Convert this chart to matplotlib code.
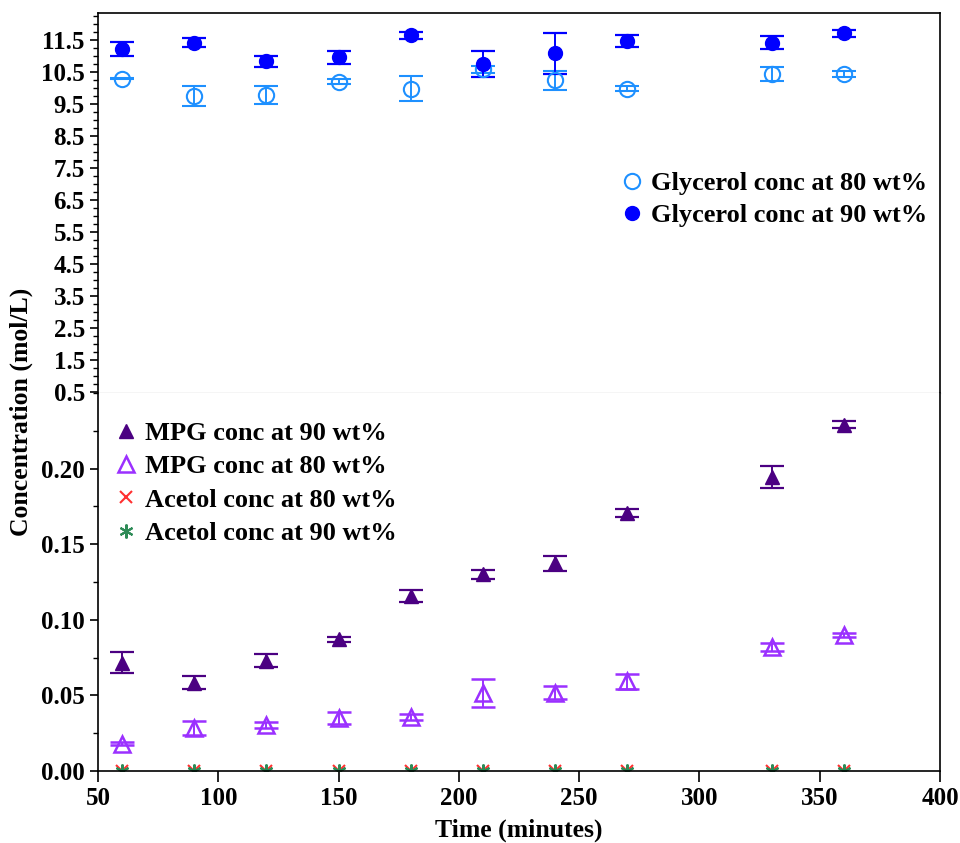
import matplotlib
matplotlib.use("Agg")
import matplotlib.pyplot as plt
from matplotlib.ticker import MultipleLocator, FormatStrFormatter

plt.rcParams['font.family'] = ['Liberation Serif', 'DejaVu Serif']
plt.rcParams['font.weight'] = 'bold'

# Sampling times (minutes)
time_min = [60, 90, 120, 150, 180, 210, 240, 270, 330, 360]

# Glycerol concentration (mol/L) and error
gly80 = [10.29, 9.74, 9.78, 10.20, 9.97, 10.58, 10.24, 9.98, 10.43, 10.43]
gly80_err = [0.02, 0.32, 0.27, 0.09, 0.39, 0.10, 0.29, 0.08, 0.21, 0.09]
gly90 = [11.21, 11.41, 10.83, 10.95, 11.65, 10.75, 11.08, 11.47, 11.41, 11.70]
gly90_err = [0.22, 0.14, 0.17, 0.20, 0.11, 0.40, 0.63, 0.18, 0.21, 0.11]

# MPG concentration (mol/L) and error
mpg90 = [0.0717, 0.0585, 0.0730, 0.0872, 0.1160, 0.1300, 0.1375, 0.1706, 0.1945, 0.2290]
mpg90_err = [0.0070, 0.0044, 0.0044, 0.0017, 0.0040, 0.0030, 0.0050, 0.0025, 0.0072, 0.0024]
mpg80 = [0.0179, 0.0283, 0.0305, 0.0349, 0.0360, 0.0515, 0.0519, 0.0592, 0.0820, 0.0900]
mpg80_err = [0.0010, 0.0046, 0.0019, 0.0039, 0.0020, 0.0094, 0.0044, 0.0050, 0.0025, 0.0013]

# Acetol concentration (mol/L)
acetol80 = [0.0, 0.0, 0.0, 0.0, 0.0, 0.0, 0.0, 0.0, 0.0, 0.0]
acetol90 = [0.0, 0.0, 0.0, 0.0, 0.0, 0.0, 0.0, 0.0, 0.0, 0.0]

x_ticks = [50, 100, 150, 200, 250, 300, 350, 400]
top_ticks = [0.5, 1.5, 2.5, 3.5, 4.5, 5.5, 6.5, 7.5, 8.5, 9.5, 10.5, 11.5]
bot_ticks = [0.00, 0.05, 0.10, 0.15, 0.20]

fig = plt.figure(figsize=(9.6, 8.43), dpi=100)
L, W = 98 / 960, (940 - 98) / 960
ax_top = fig.add_axes([L, 1 - 393 / 843, W, (393 - 13) / 843])
ax_bot = fig.add_axes([L, 1 - 771 / 843, W, (771 - 393) / 843])

cap = 8.5
ebkw = dict(capsize=cap, elinewidth=1.4, capthick=1.6, linestyle='none')

e_g80 = ax_top.errorbar(time_min, gly80, yerr=gly80_err, marker='o', ms=11, mfc='none',
                        mec='#1E90FF', mew=1.5, color='#1E90FF', **ebkw)
e_g90 = ax_top.errorbar(time_min, gly90, yerr=gly90_err, marker='o', ms=10, mfc='#0000FF',
                        mec='#0000FF', color='#0000FF', **ebkw)

e_m90 = ax_bot.errorbar(time_min, mpg90, yerr=mpg90_err, marker='^', ms=10, mfc='#4B0082',
                        mec='#4B0082', color='#4B0082', **ebkw)
e_m80 = ax_bot.errorbar(time_min, mpg80, yerr=mpg80_err, marker='^', ms=11, mfc='none',
                        mec='#9B30FF', mew=1.8, color='#9B30FF', **ebkw)
l_a80, = ax_bot.plot(time_min, acetol80, linestyle='none', marker='x', ms=9, mew=1.5,
                     color='#FF3030')
l_a90, = ax_bot.plot(time_min, acetol90, linestyle='none', marker=(6, 2, 0), ms=10, mew=1.5,
                     color='#2E8B57')

for ax in (ax_top, ax_bot):
    ax.set_xlim(50, 400)
    for s in ax.spines.values():
        s.set_linewidth(1.2)
    ax.tick_params(axis='y', which='major', direction='out', length=6, width=1.2,
                   labelsize=18)
    ax.tick_params(axis='y', which='minor', direction='out', length=3.5, width=1.0)

# Upper panel: glycerol
ax_top.set_yticks(top_ticks)
ax_top.yaxis.set_minor_locator(MultipleLocator(0.25))
ax_top.yaxis.set_major_formatter(FormatStrFormatter('%.1f'))
ax_top.set_ylim(0.47, 12.34)
ax_top.set_xticks([])
ax_top.spines['bottom'].set_color('#d0d0d0')
ax_top.spines['bottom'].set_linewidth(1.0)

# Lower panel: MPG and acetol
ax_bot.set_yticks(bot_ticks)
ax_bot.yaxis.set_minor_locator(MultipleLocator(0.025))
ax_bot.yaxis.set_major_formatter(FormatStrFormatter('%.2f'))
ax_bot.set_ylim(0, 0.25)
ax_bot.spines['top'].set_visible(False)
ax_bot.set_xticks(x_ticks)
ax_bot.tick_params(axis='x', direction='out', length=8, width=1.2, labelsize=18)
for lab in (ax_bot.get_xticklabels() + ax_bot.get_yticklabels()
            + ax_top.get_yticklabels()):
    lab.set_fontweight('bold')

ax_bot.set_xlabel('Time (minutes)', fontsize=18.5, fontweight='bold', labelpad=6)
fig.text(0.022, 0.511, 'Concentration (mol/L)', rotation=90, ha='center', va='center',
         fontsize=18.5, fontweight='bold')

leg_kw = dict(frameon=False, prop={'weight': 'bold', 'size': 19}, handletextpad=0.15,
              labelspacing=0.33, handlelength=1.1, borderaxespad=0)
ax_top.legend([e_g80.lines[0], e_g90.lines[0]],
              ['Glycerol conc at 80 wt%', 'Glycerol conc at 90 wt%'],
              loc='upper left', bbox_to_anchor=(0.605, 0.61), **leg_kw)
ax_bot.legend([e_m90.lines[0], e_m80.lines[0], l_a80, l_a90],
              ['MPG conc at 90 wt%', 'MPG conc at 80 wt%',
               'Acetol conc at 80 wt%', 'Acetol conc at 90 wt%'],
              loc='upper left', bbox_to_anchor=(0.004, 0.952),
              **{**leg_kw, 'labelspacing': 0.37})

fig.savefig('out.png', dpi=100)
